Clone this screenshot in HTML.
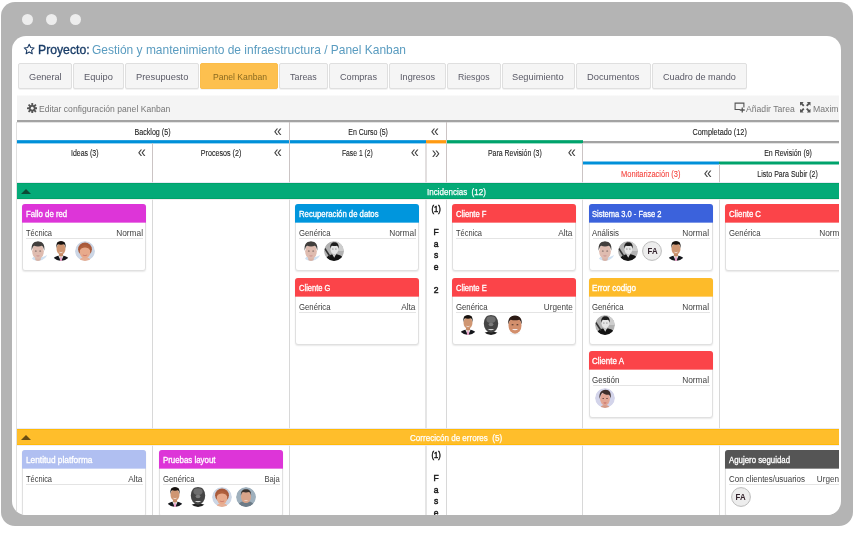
<!DOCTYPE html>
<html lang="es"><head><meta charset="utf-8"><title>Panel Kanban</title>
<style>
html,body{margin:0;padding:0;background:#fff}
body{width:854px;height:534px;overflow:hidden;position:relative;font-family:'Liberation Sans', sans-serif}
#frame{position:absolute;left:1px;top:2px;width:852px;height:523.5px;background:#b4b4b4;border-radius:14px}
.dot{position:absolute;top:13.5px;width:11px;height:11px;border-radius:50%;background:#ededed}
#screen{position:absolute;left:12px;top:36px;width:828.5px;height:479px;background:#fff;border-radius:14px;overflow:hidden}
#page{position:absolute;left:-12px;top:-36px;width:854px;height:534px}
#clip{position:absolute;left:0;top:0;width:839px;height:534px;overflow:hidden}
</style></head><body>
<div id="frame"></div>
<div class="dot" style="left:21.5px"></div><div class="dot" style="left:45.5px"></div><div class="dot" style="left:69.5px"></div>
<div id="screen"><div id="page"><div id="clip">
<svg style="position:absolute;left:22.9px;top:43px" width="12.4" height="12.4" viewBox="0 0 24 24"><path d="M12 2.6l2.9 6.2 6.7.8-5 4.6 1.4 6.7L12 17.5 6 20.9l1.4-6.7-5-4.6 6.7-.8z" fill="none" stroke="#1d3d66" stroke-width="2" stroke-linejoin="round"/></svg>
<span style="position:absolute;left:38.30px;top:36.80px;height:26px;line-height:26px;font-size:13px;font-weight:400;color:#1a3d68;white-space:pre;transform:scaleX(0.9395);transform-origin:0 50%;-webkit-text-stroke:0.35px #1a3d68;">Proyecto:</span>
<span style="position:absolute;left:92.00px;top:36.80px;height:26px;line-height:26px;font-size:13px;font-weight:400;color:#5a9cc0;white-space:pre;transform:scaleX(0.9206);transform-origin:0 50%;">Gestión y mantenimiento de infraestructura / Panel Kanban</span>
<div style="position:absolute;left:18px;top:63px;width:54px;height:26px;box-sizing:border-box;background:#f5f5f5;border:1px solid #dfdfdf;border-radius:2px;box-shadow:0 1px 0 rgba(0,0,0,.05)"></div>
<span style="position:absolute;left:28.80px;top:67.30px;height:19.6px;line-height:19.6px;font-size:9.8px;font-weight:400;color:#5a5a66;white-space:pre;transform:scaleX(0.9352);transform-origin:0 50%;">General</span>
<div style="position:absolute;left:73px;top:63px;width:51px;height:26px;box-sizing:border-box;background:#f5f5f5;border:1px solid #dfdfdf;border-radius:2px;box-shadow:0 1px 0 rgba(0,0,0,.05)"></div>
<span style="position:absolute;left:84.40px;top:67.30px;height:19.6px;line-height:19.6px;font-size:9.8px;font-weight:400;color:#5a5a66;white-space:pre;transform:scaleX(0.9471);transform-origin:0 50%;">Equipo</span>
<div style="position:absolute;left:125px;top:63px;width:74px;height:26px;box-sizing:border-box;background:#f5f5f5;border:1px solid #dfdfdf;border-radius:2px;box-shadow:0 1px 0 rgba(0,0,0,.05)"></div>
<span style="position:absolute;left:136.00px;top:67.30px;height:19.6px;line-height:19.6px;font-size:9.8px;font-weight:400;color:#5a5a66;white-space:pre;transform:scaleX(0.9525);transform-origin:0 50%;">Presupuesto</span>
<div style="position:absolute;left:200px;top:63px;width:78px;height:26px;box-sizing:border-box;background:#fdc04f;border:1px solid #fbbd4a;border-radius:2px;box-shadow:0 1px 0 rgba(0,0,0,.05)"></div>
<span style="position:absolute;left:213.00px;top:67.30px;height:19.6px;line-height:19.6px;font-size:9.8px;font-weight:400;color:#8a6a20;white-space:pre;transform:scaleX(0.8772);transform-origin:0 50%;">Panel Kanban</span>
<div style="position:absolute;left:279px;top:63px;width:49px;height:26px;box-sizing:border-box;background:#f5f5f5;border:1px solid #dfdfdf;border-radius:2px;box-shadow:0 1px 0 rgba(0,0,0,.05)"></div>
<span style="position:absolute;left:290.40px;top:67.30px;height:19.6px;line-height:19.6px;font-size:9.8px;font-weight:400;color:#5a5a66;white-space:pre;transform:scaleX(0.9114);transform-origin:0 50%;">Tareas</span>
<div style="position:absolute;left:329px;top:63px;width:59px;height:26px;box-sizing:border-box;background:#f5f5f5;border:1px solid #dfdfdf;border-radius:2px;box-shadow:0 1px 0 rgba(0,0,0,.05)"></div>
<span style="position:absolute;left:340.00px;top:67.30px;height:19.6px;line-height:19.6px;font-size:9.8px;font-weight:400;color:#5a5a66;white-space:pre;transform:scaleX(0.9308);transform-origin:0 50%;">Compras</span>
<div style="position:absolute;left:389px;top:63px;width:57px;height:26px;box-sizing:border-box;background:#f5f5f5;border:1px solid #dfdfdf;border-radius:2px;box-shadow:0 1px 0 rgba(0,0,0,.05)"></div>
<span style="position:absolute;left:399.90px;top:67.30px;height:19.6px;line-height:19.6px;font-size:9.8px;font-weight:400;color:#5a5a66;white-space:pre;transform:scaleX(0.9341);transform-origin:0 50%;">Ingresos</span>
<div style="position:absolute;left:447px;top:63px;width:54px;height:26px;box-sizing:border-box;background:#f5f5f5;border:1px solid #dfdfdf;border-radius:2px;box-shadow:0 1px 0 rgba(0,0,0,.05)"></div>
<span style="position:absolute;left:458.00px;top:67.30px;height:19.6px;line-height:19.6px;font-size:9.8px;font-weight:400;color:#5a5a66;white-space:pre;transform:scaleX(0.8925);transform-origin:0 50%;">Riesgos</span>
<div style="position:absolute;left:502px;top:63px;width:73px;height:26px;box-sizing:border-box;background:#f5f5f5;border:1px solid #dfdfdf;border-radius:2px;box-shadow:0 1px 0 rgba(0,0,0,.05)"></div>
<span style="position:absolute;left:512.40px;top:67.30px;height:19.6px;line-height:19.6px;font-size:9.8px;font-weight:400;color:#5a5a66;white-space:pre;transform:scaleX(0.9473);transform-origin:0 50%;">Seguimiento</span>
<div style="position:absolute;left:576px;top:63px;width:75px;height:26px;box-sizing:border-box;background:#f5f5f5;border:1px solid #dfdfdf;border-radius:2px;box-shadow:0 1px 0 rgba(0,0,0,.05)"></div>
<span style="position:absolute;left:586.80px;top:67.30px;height:19.6px;line-height:19.6px;font-size:9.8px;font-weight:400;color:#5a5a66;white-space:pre;transform:scaleX(0.9527);transform-origin:0 50%;">Documentos</span>
<div style="position:absolute;left:652px;top:63px;width:95px;height:26px;box-sizing:border-box;background:#f5f5f5;border:1px solid #dfdfdf;border-radius:2px;box-shadow:0 1px 0 rgba(0,0,0,.05)"></div>
<span style="position:absolute;left:662.50px;top:67.30px;height:19.6px;line-height:19.6px;font-size:9.8px;font-weight:400;color:#5a5a66;white-space:pre;transform:scaleX(0.9294);transform-origin:0 50%;">Cuadro de mando</span>
<div style="position:absolute;left:17px;top:95px;width:823px;height:25px;background:#f4f4f4;background:linear-gradient(to bottom,rgba(244,244,244,.5) 1px,#f4f4f4 1px);"></div>
<svg style="position:absolute;left:26.5px;top:102.5px" width="10.5" height="10.5" viewBox="0 0 20 20"><g fill="#555"><circle cx="10" cy="10" r="6.2"/><g id="t"><rect x="8.2" y="0" width="3.6" height="20" rx="0.8"/></g><rect x="8.2" y="0" width="3.6" height="20" rx="0.8" transform="rotate(45 10 10)"/><rect x="8.2" y="0" width="3.6" height="20" rx="0.8" transform="rotate(90 10 10)"/><rect x="8.2" y="0" width="3.6" height="20" rx="0.8" transform="rotate(135 10 10)"/></g><circle cx="10" cy="10" r="2.7" fill="#f4f4f4"/></svg>
<span style="position:absolute;left:39.20px;top:99.60px;height:18.8px;line-height:18.8px;font-size:9.4px;font-weight:400;color:#777;white-space:pre;transform:scaleX(0.9160);transform-origin:0 50%;">Editar configuración panel Kanban</span>
<svg style="position:absolute;left:733.5px;top:101.7px" width="11" height="11" viewBox="0 0 22 22"><path d="M12 15H2.2V2.2h17.6V11" fill="none" stroke="#555" stroke-width="2.2"/><path d="M16.5 11v10M11.5 16h10" stroke="#555" stroke-width="2.6"/></svg>
<span style="position:absolute;left:746.00px;top:99.60px;height:18.8px;line-height:18.8px;font-size:9.4px;font-weight:400;color:#777;white-space:pre;transform:scaleX(0.9210);transform-origin:0 50%;">Añadir Tarea</span>
<svg style="position:absolute;left:800px;top:102px" width="10.5" height="10.5" viewBox="0 0 20 20"><g fill="#555"><path d="M0 0h7L4.8 2.2 8.5 6 6 8.5 2.2 4.8 0 7z"/><path d="M20 0v7l-2.2-2.2L14 8.5 11.5 6l3.7-3.8L13 0z"/><path d="M0 20v-7l2.2 2.2L6 11.5 8.500 14l-3.700 3.800L7 20z"/><path d="M20 20h-7l2.200-2.200L11.500 14 14 11.500l3.800 3.700L20 13z"/></g></svg>
<span style="position:absolute;left:812.70px;top:99.60px;height:18.8px;line-height:18.8px;font-size:9.4px;font-weight:400;color:#777;white-space:pre;transform:scaleX(0.9247);transform-origin:0 50%;">Maximizar</span>
<div style="position:absolute;left:17px;top:120px;width:840px;height:3px;background:linear-gradient(to bottom,rgba(163,163,163,1) 0px,rgba(163,163,163,1) 1px,rgba(163,163,163,1) 1px,rgba(163,163,163,1) 2px,rgba(163,163,163,0.3) 2px,rgba(163,163,163,0.3) 3px)"></div>
<div style="position:absolute;left:17px;top:140px;width:409px;height:4px;background:linear-gradient(to bottom,rgba(0,144,217,0.85) 0px,rgba(0,144,217,0.85) 1px,rgba(0,144,217,1) 1px,rgba(0,144,217,1) 2px,rgba(0,144,217,1) 2px,rgba(0,144,217,1) 3px,rgba(0,144,217,0.4) 3px,rgba(0,144,217,0.4) 4px)"></div>
<div style="position:absolute;left:426px;top:140px;width:20px;height:4px;background:linear-gradient(to bottom,rgba(255,154,18,0.85) 0px,rgba(255,154,18,0.85) 1px,rgba(255,154,18,1) 1px,rgba(255,154,18,1) 2px,rgba(255,154,18,1) 2px,rgba(255,154,18,1) 3px,rgba(255,154,18,0.4) 3px,rgba(255,154,18,0.4) 4px)"></div>
<div style="position:absolute;left:446px;top:140px;width:137px;height:4px;background:linear-gradient(to bottom,rgba(0,163,108,0.85) 0px,rgba(0,163,108,0.85) 1px,rgba(0,163,108,1) 1px,rgba(0,163,108,1) 2px,rgba(0,163,108,1) 2px,rgba(0,163,108,1) 3px,rgba(0,163,108,0.4) 3px,rgba(0,163,108,0.4) 4px)"></div>
<div style="position:absolute;left:583px;top:140px;width:280px;height:4px;background:linear-gradient(to bottom,rgba(163,163,163,0) 0px,rgba(163,163,163,0) 1px,rgba(163,163,163,1) 1px,rgba(163,163,163,1) 2px,rgba(163,163,163,1) 2px,rgba(163,163,163,1) 3px,rgba(163,163,163,0.3) 3px,rgba(163,163,163,0.3) 4px)"></div>
<div style="position:absolute;left:583px;top:161px;width:136px;height:4px;background:linear-gradient(to bottom,rgba(0,144,217,0.5) 0px,rgba(0,144,217,0.5) 1px,rgba(0,144,217,1) 1px,rgba(0,144,217,1) 2px,rgba(0,144,217,1) 2px,rgba(0,144,217,1) 3px,rgba(0,144,217,0.5) 3px,rgba(0,144,217,0.5) 4px)"></div>
<div style="position:absolute;left:719px;top:161px;width:137px;height:4px;background:linear-gradient(to bottom,rgba(0,163,108,0.5) 0px,rgba(0,163,108,0.5) 1px,rgba(0,163,108,1) 1px,rgba(0,163,108,1) 2px,rgba(0,163,108,1) 2px,rgba(0,163,108,1) 3px,rgba(0,163,108,0.5) 3px,rgba(0,163,108,0.5) 4px)"></div>
<div style="position:absolute;left:16px;top:122px;width:1px;height:398px;background:#e0e0e0;"></div>
<div style="position:absolute;left:152px;top:143px;width:1px;height:40px;background:#cbc4c4;"></div>
<div style="position:absolute;left:289px;top:122px;width:1px;height:61px;background:#cbc4c4;"></div>
<div style="position:absolute;left:446px;top:122px;width:1px;height:61px;background:#cbc4c4;"></div>
<div style="position:absolute;left:425px;top:143px;width:2px;height:40px;background:rgba(203,196,196,.55);"></div>
<div style="position:absolute;left:582px;top:143px;width:1px;height:40px;background:#cbc4c4;"></div>
<div style="position:absolute;left:719px;top:164px;width:1px;height:19px;background:#cbc4c4;"></div>
<div style="position:absolute;left:152px;top:199px;width:1px;height:230px;background:#d8d8d8;"></div>
<div style="position:absolute;left:152px;top:445px;width:1px;height:75px;background:#d8d8d8;"></div>
<div style="position:absolute;left:289px;top:199px;width:1px;height:230px;background:#d8d8d8;"></div>
<div style="position:absolute;left:289px;top:445px;width:1px;height:75px;background:#d8d8d8;"></div>
<div style="position:absolute;left:446px;top:199px;width:1px;height:230px;background:#d8d8d8;"></div>
<div style="position:absolute;left:446px;top:445px;width:1px;height:75px;background:#d8d8d8;"></div>
<div style="position:absolute;left:582px;top:199px;width:1px;height:230px;background:#d8d8d8;"></div>
<div style="position:absolute;left:582px;top:445px;width:1px;height:75px;background:#d8d8d8;"></div>
<div style="position:absolute;left:719px;top:199px;width:1px;height:230px;background:#d8d8d8;"></div>
<div style="position:absolute;left:719px;top:445px;width:1px;height:75px;background:#d8d8d8;"></div>
<div style="position:absolute;left:425px;top:199px;width:2px;height:230px;background:rgba(207,207,207,.55);"></div>
<div style="position:absolute;left:425px;top:445px;width:2px;height:75px;background:rgba(207,207,207,.55);"></div>
<span style="position:absolute;left:131.40px;top:124.00px;height:17.0px;line-height:17.0px;font-size:8.5px;font-weight:400;color:#222;white-space:pre;transform:scaleX(0.8395);transform-origin:50% 50%;-webkit-text-stroke:0.1px #222;">Backlog (5)</span>
<span style="position:absolute;left:273.07px;top:114.20px;height:34px;line-height:34px;font-size:17px;font-weight:400;color:#444;white-space:pre;transform:scaleX(0.8554);transform-origin:50% 50%;">«</span>
<span style="position:absolute;left:343.81px;top:124.00px;height:17.0px;line-height:17.0px;font-size:8.5px;font-weight:400;color:#222;white-space:pre;transform:scaleX(0.8239);transform-origin:50% 50%;-webkit-text-stroke:0.1px #222;">En Curso (5)</span>
<span style="position:absolute;left:430.27px;top:114.20px;height:34px;line-height:34px;font-size:17px;font-weight:400;color:#444;white-space:pre;transform:scaleX(0.8554);transform-origin:50% 50%;">«</span>
<span style="position:absolute;left:687.64px;top:124.00px;height:17.0px;line-height:17.0px;font-size:8.5px;font-weight:400;color:#222;white-space:pre;transform:scaleX(0.8577);transform-origin:50% 50%;-webkit-text-stroke:0.1px #222;">Completado (12)</span>
<span style="position:absolute;left:67.93px;top:145.00px;height:17.0px;line-height:17.0px;font-size:8.5px;font-weight:400;color:#222;white-space:pre;transform:scaleX(0.8227);transform-origin:50% 50%;-webkit-text-stroke:0.1px #222;">Ideas (3)</span>
<span style="position:absolute;left:136.87px;top:135.20px;height:34px;line-height:34px;font-size:17px;font-weight:400;color:#444;white-space:pre;transform:scaleX(0.8554);transform-origin:50% 50%;">«</span>
<span style="position:absolute;left:197.11px;top:145.00px;height:17.0px;line-height:17.0px;font-size:8.5px;font-weight:400;color:#222;white-space:pre;transform:scaleX(0.8405);transform-origin:50% 50%;-webkit-text-stroke:0.1px #222;">Procesos (2)</span>
<span style="position:absolute;left:273.07px;top:135.20px;height:34px;line-height:34px;font-size:17px;font-weight:400;color:#444;white-space:pre;transform:scaleX(0.8554);transform-origin:50% 50%;">«</span>
<span style="position:absolute;left:338.43px;top:145.00px;height:17.0px;line-height:17.0px;font-size:8.5px;font-weight:400;color:#222;white-space:pre;transform:scaleX(0.7974);transform-origin:50% 50%;-webkit-text-stroke:0.1px #222;">Fase 1 (2)</span>
<span style="position:absolute;left:409.77px;top:135.20px;height:34px;line-height:34px;font-size:17px;font-weight:400;color:#444;white-space:pre;transform:scaleX(0.8554);transform-origin:50% 50%;">«</span>
<span style="position:absolute;left:430.57px;top:135.70px;height:34px;line-height:34px;font-size:17px;font-weight:400;color:#444;white-space:pre;transform:scaleX(0.8554);transform-origin:50% 50%;">»</span>
<span style="position:absolute;left:481.76px;top:145.00px;height:17.0px;line-height:17.0px;font-size:8.5px;font-weight:400;color:#222;white-space:pre;transform:scaleX(0.8207);transform-origin:50% 50%;-webkit-text-stroke:0.1px #222;">Para Revisión (3)</span>
<span style="position:absolute;left:566.67px;top:135.20px;height:34px;line-height:34px;font-size:17px;font-weight:400;color:#444;white-space:pre;transform:scaleX(0.8554);transform-origin:50% 50%;">«</span>
<span style="position:absolute;left:758.55px;top:145.00px;height:17.0px;line-height:17.0px;font-size:8.5px;font-weight:400;color:#222;white-space:pre;transform:scaleX(0.8226);transform-origin:50% 50%;-webkit-text-stroke:0.1px #222;">En Revisión (9)</span>
<span style="position:absolute;left:617.42px;top:165.70px;height:17.0px;line-height:17.0px;font-size:8.5px;font-weight:400;color:#f4453f;white-space:pre;transform:scaleX(0.8807);transform-origin:50% 50%;-webkit-text-stroke:0.1px #f4453f;">Monitarización (3)</span>
<span style="position:absolute;left:703.27px;top:155.90px;height:34px;line-height:34px;font-size:17px;font-weight:400;color:#444;white-space:pre;transform:scaleX(0.8554);transform-origin:50% 50%;">«</span>
<span style="position:absolute;left:750.88px;top:165.70px;height:17.0px;line-height:17.0px;font-size:8.5px;font-weight:400;color:#222;white-space:pre;transform:scaleX(0.8261);transform-origin:50% 50%;-webkit-text-stroke:0.1px #222;">Listo Para Subir (2)</span>
<div style="position:absolute;left:17px;top:182px;width:840px;height:1px;background:rgba(225,228,245,.8);"></div>
<div style="position:absolute;left:17px;top:199px;width:840px;height:1px;background:rgba(240,232,236,.8);"></div>
<div style="position:absolute;left:17px;top:183px;width:840px;height:16px;background:#04aa78;box-sizing:border-box;border-top:1px solid #00a268;border-bottom:1px solid #00a268;"></div>
<svg style="position:absolute;left:21px;top:188.5px" width="10" height="5" viewBox="0 0 10 5"><path d="M0 5L5 0l5 5z" fill="#0b4a36"/></svg>
<span style="position:absolute;left:426.80px;top:182.90px;height:18.6px;line-height:18.6px;font-size:9.3px;font-weight:400;color:#fff;white-space:pre;transform:scaleX(0.8634);transform-origin:0 50%;white-space:pre;-webkit-text-stroke:0.25px #fff;">Incidencias  (12)</span>
<div style="position:absolute;left:17px;top:428px;width:840px;height:1px;background:rgba(225,228,245,.8);"></div>
<div style="position:absolute;left:17px;top:445px;width:840px;height:1px;background:rgba(240,232,236,.8);"></div>
<div style="position:absolute;left:17px;top:429px;width:840px;height:16px;background:#ffbe2b;box-sizing:border-box;border-top:1px solid #ffba08;border-bottom:1px solid #ffba08;"></div>
<svg style="position:absolute;left:21px;top:434.5px" width="10" height="5" viewBox="0 0 10 5"><path d="M0 5L5 0l5 5z" fill="#6b4d12"/></svg>
<span style="position:absolute;left:410.30px;top:428.90px;height:18.6px;line-height:18.6px;font-size:9.3px;font-weight:400;color:#fff;white-space:pre;transform:scaleX(0.8662);transform-origin:0 50%;white-space:pre;-webkit-text-stroke:0.25px #fff;">Correcicón de errores  (5)</span>
<span style="position:absolute;left:430.80px;top:200.80px;height:17.0px;line-height:17.0px;font-size:8.5px;font-weight:400;color:#1c1c1c;white-space:pre;transform:scaleX(0.8854);transform-origin:50% 50%;-webkit-text-stroke:0.5px #1c1c1c;">(1)</span>
<span style="position:absolute;left:433.40px;top:224.10px;height:17.0px;line-height:17.0px;font-size:8.5px;font-weight:400;color:#1c1c1c;white-space:pre;transform:scaleX(1.0000);transform-origin:50% 50%;-webkit-text-stroke:0.5px #1c1c1c;">F</span>
<span style="position:absolute;left:433.63px;top:235.75px;height:17.0px;line-height:17.0px;font-size:8.5px;font-weight:400;color:#1c1c1c;white-space:pre;transform:scaleX(1.0000);transform-origin:50% 50%;-webkit-text-stroke:0.5px #1c1c1c;">a</span>
<span style="position:absolute;left:433.88px;top:247.40px;height:17.0px;line-height:17.0px;font-size:8.5px;font-weight:400;color:#1c1c1c;white-space:pre;transform:scaleX(1.0000);transform-origin:50% 50%;-webkit-text-stroke:0.5px #1c1c1c;">s</span>
<span style="position:absolute;left:433.63px;top:259.05px;height:17.0px;line-height:17.0px;font-size:8.5px;font-weight:400;color:#1c1c1c;white-space:pre;transform:scaleX(1.0000);transform-origin:50% 50%;-webkit-text-stroke:0.5px #1c1c1c;">e</span>
<span style="position:absolute;left:433.63px;top:282.35px;height:17.0px;line-height:17.0px;font-size:8.5px;font-weight:400;color:#1c1c1c;white-space:pre;transform:scaleX(1.0000);transform-origin:50% 50%;-webkit-text-stroke:0.5px #1c1c1c;">2</span>
<span style="position:absolute;left:430.80px;top:446.80px;height:17.0px;line-height:17.0px;font-size:8.5px;font-weight:400;color:#1c1c1c;white-space:pre;transform:scaleX(0.8854);transform-origin:50% 50%;-webkit-text-stroke:0.5px #1c1c1c;">(1)</span>
<span style="position:absolute;left:433.40px;top:470.10px;height:17.0px;line-height:17.0px;font-size:8.5px;font-weight:400;color:#1c1c1c;white-space:pre;transform:scaleX(1.0000);transform-origin:50% 50%;-webkit-text-stroke:0.5px #1c1c1c;">F</span>
<span style="position:absolute;left:433.63px;top:481.75px;height:17.0px;line-height:17.0px;font-size:8.5px;font-weight:400;color:#1c1c1c;white-space:pre;transform:scaleX(1.0000);transform-origin:50% 50%;-webkit-text-stroke:0.5px #1c1c1c;">a</span>
<span style="position:absolute;left:433.88px;top:493.40px;height:17.0px;line-height:17.0px;font-size:8.5px;font-weight:400;color:#1c1c1c;white-space:pre;transform:scaleX(1.0000);transform-origin:50% 50%;-webkit-text-stroke:0.5px #1c1c1c;">s</span>
<span style="position:absolute;left:433.63px;top:505.05px;height:17.0px;line-height:17.0px;font-size:8.5px;font-weight:400;color:#1c1c1c;white-space:pre;transform:scaleX(1.0000);transform-origin:50% 50%;-webkit-text-stroke:0.5px #1c1c1c;">e</span>
<span style="position:absolute;left:433.63px;top:528.35px;height:17.0px;line-height:17.0px;font-size:8.5px;font-weight:400;color:#1c1c1c;white-space:pre;transform:scaleX(1.0000);transform-origin:50% 50%;-webkit-text-stroke:0.5px #1c1c1c;">2</span>
<div style="position:absolute;left:22px;top:204px;width:124px;height:66.5px;box-sizing:border-box;background:#fff;border:1px solid #e0e0e0;border-radius:3px;box-shadow:0 1px 1.5px rgba(0,0,0,.09)"></div>
<div style="position:absolute;left:22px;top:204px;width:124px;height:19px;background:linear-gradient(to bottom,#dd35d8 18px,transparent 18px),#dd35d8a8;border-radius:3px 3px 0 0"></div>
<span style="position:absolute;left:25.70px;top:205.60px;height:16.8px;line-height:16.8px;font-size:8.4px;font-weight:400;color:#fff;white-space:pre;transform:scaleX(0.9314);transform-origin:0 50%;-webkit-text-stroke:0.3px #fff;">Fallo de red</span>
<span style="position:absolute;left:25.80px;top:224.60px;height:16.8px;line-height:16.8px;font-size:8.4px;font-weight:400;color:#3a3a3a;white-space:pre;transform:scaleX(0.8865);transform-origin:0 50%;">Técnica</span>
<span style="position:absolute;left:115.60px;top:224.60px;height:16.8px;line-height:16.8px;font-size:8.4px;font-weight:400;color:#444;white-space:pre;transform:scaleX(0.9926);transform-origin:100% 50%;">Normal</span>
<div style="position:absolute;left:25.5px;top:238px;width:117px;height:1px;background:#e4e4e4;"></div>
<svg style="position:absolute;left:27.6px;top:241px;border-radius:50%" width="20" height="20" viewBox="0 0 20 20"><g transform="translate(10 9.7) scale(1.1) translate(-10 -10)"><path d="M2.500 20l3.200-4.200 8.600 0L18.500 14 16.500 20z" fill="#cfe0f1"/><rect x="7.500" y="13" width="5" height="6.500" rx="1.500" fill="#d9b3a6"/><ellipse cx="10" cy="10.600" rx="5.300" ry="6.800" fill="#dfbcb0"/><path d="M4.300 10C3.500 4 6.300 1.400 10 1.400s6.600 2.400 5.700 8.600c-.5-2.900-1.400-4.100-2.300-4.600-1.800.9-5 .9-6.800 0-.9.500-1.800 1.700-2.300 4.600z" fill="#423f3d"/><ellipse cx="8" cy="10.300" rx=".9" ry=".5" fill="#6b5a58"/><ellipse cx="12" cy="10.300" rx=".9" ry=".5" fill="#6b5a58"/><path d="M8.700 14.600q1.300.5 2.600 0" stroke="#c98a8a" stroke-width=".8" fill="none"/></g></svg>
<svg style="position:absolute;left:51.3px;top:241px;border-radius:50%" width="20" height="20" viewBox="0 0 20 20"><g transform="translate(10 9.4) scale(1.12) translate(-10 -10)"><path d="M2 20c.3-3 2.500-4.700 5.500-5.300h5c3 .6 5.200 2.300 5.500 5.300z" fill="#14161b"/><path d="M7.600 14.600L10 20l2.400-5.400z" fill="#f4f4f8"/><path d="M9.400 16h1.200l.600 4H8.800z" fill="#eaa0c8"/><rect x="8.200" y="11" width="3.600" height="4.500" rx="1" fill="#c48a66"/><ellipse cx="10" cy="8.600" rx="4" ry="5.300" fill="#cf9672"/><path d="M5.900 8C5.400 3.200 7.400 1.300 10 1.300s4.600 1.900 4.100 6.700c-.3-2.100-.8-3-1.500-3.500-1.600.5-3.600.5-5.200 0-.7.500-1.200 1.400-1.500 3.500z" fill="#17120f"/><path d="M8.600 11.600q1.400.9 2.800 0" stroke="#f3e4dc" stroke-width=".7" fill="none"/></g></svg>
<svg style="position:absolute;left:75.0px;top:241px;border-radius:50%" width="20" height="20" viewBox="0 0 20 20"><circle cx="10" cy="10" r="10" fill="#ccd6e5"/><path d="M4 20c.5-2.500 2.500-3.800 6-3.800s5.500 1.300 6 3.800z" fill="#e6b097"/><ellipse cx="10" cy="8.300" rx="6.900" ry="6.800" fill="#a8593a"/><ellipse cx="10" cy="11" rx="5.200" ry="6.300" fill="#e8aa8c"/><path d="M4.800 9.500C5 5.500 7 4 10 4.200s5 1.300 5.200 5.300c-1-2-2.800-2.900-5.200-2.900s-4.200.9-5.200 2.900z" fill="#b0603d"/><path d="M7.800 14q2.200 1.400 4.400 0" stroke="#c9756a" stroke-width=".8" fill="none"/></svg>
<div style="position:absolute;left:295px;top:204px;width:124px;height:66.5px;box-sizing:border-box;background:#fff;border:1px solid #e0e0e0;border-radius:3px;box-shadow:0 1px 1.5px rgba(0,0,0,.09)"></div>
<div style="position:absolute;left:295px;top:204px;width:124px;height:19px;background:linear-gradient(to bottom,#0096dd 18px,transparent 18px),#0096dda8;border-radius:3px 3px 0 0"></div>
<span style="position:absolute;left:298.70px;top:205.60px;height:16.8px;line-height:16.8px;font-size:8.4px;font-weight:400;color:#fff;white-space:pre;transform:scaleX(0.9229);transform-origin:0 50%;-webkit-text-stroke:0.3px #fff;">Recuperación de datos</span>
<span style="position:absolute;left:298.80px;top:224.60px;height:16.8px;line-height:16.8px;font-size:8.4px;font-weight:400;color:#3a3a3a;white-space:pre;transform:scaleX(0.9269);transform-origin:0 50%;">Genérica</span>
<span style="position:absolute;left:388.60px;top:224.60px;height:16.8px;line-height:16.8px;font-size:8.4px;font-weight:400;color:#444;white-space:pre;transform:scaleX(0.9926);transform-origin:100% 50%;">Normal</span>
<div style="position:absolute;left:298.5px;top:238px;width:117px;height:1px;background:#e4e4e4;"></div>
<svg style="position:absolute;left:300.6px;top:241px;border-radius:50%" width="20" height="20" viewBox="0 0 20 20"><g transform="translate(10 9.7) scale(1.1) translate(-10 -10)"><path d="M2.500 20l3.200-4.200 8.600 0L18.500 14 16.500 20z" fill="#cfe0f1"/><rect x="7.500" y="13" width="5" height="6.500" rx="1.500" fill="#d9b3a6"/><ellipse cx="10" cy="10.600" rx="5.300" ry="6.800" fill="#dfbcb0"/><path d="M4.300 10C3.500 4 6.300 1.400 10 1.400s6.600 2.400 5.700 8.600c-.5-2.900-1.400-4.100-2.300-4.600-1.800.9-5 .9-6.800 0-.9.500-1.800 1.700-2.300 4.600z" fill="#423f3d"/><ellipse cx="8" cy="10.300" rx=".9" ry=".5" fill="#6b5a58"/><ellipse cx="12" cy="10.300" rx=".9" ry=".5" fill="#6b5a58"/><path d="M8.700 14.600q1.300.5 2.600 0" stroke="#c98a8a" stroke-width=".8" fill="none"/></g></svg>
<svg style="position:absolute;left:324.3px;top:241px;border-radius:50%" width="20" height="20" viewBox="0 0 20 20"><circle cx="10" cy="10" r="10" fill="#b2b2b2"/><path d="M10 0a10 10 0 0 1 10 10L10 10z" fill="#cdcdcd"/><path d="M2.500 16.500c2-2.500 4.500-3.300 7.500-3.300s7 .5 9 3.500a10 10 0 0 1-16.500-.200z" fill="#141414"/><path d="M8.300 13.200l1.900 3.600 1.900-3.600z" fill="#d4d4d4"/><rect x="8.600" y="10.500" width="3.400" height="3.500" fill="#c9c9c9"/><ellipse cx="10.400" cy="8.200" rx="3.900" ry="4.900" fill="#e6e6e6"/><path d="M6.300 7.800C5.700 3 8 1.300 10.500 1.300s4.900 1.800 4.100 6.500c-.4-1.700-.9-2.600-1.600-3.100-1.600.5-3.600.5-5.100 0-.7.500-1.200 1.400-1.600 3.100z" fill="#1f1f1f"/><ellipse cx="8.900" cy="8" rx=".7" ry=".4" fill="#555"/><ellipse cx="11.900" cy="8" rx=".7" ry=".4" fill="#555"/><path d="M.8 7.500l5.200 8" stroke="#333" stroke-width="1.600"/></svg>
<div style="position:absolute;left:295px;top:278px;width:124px;height:66.5px;box-sizing:border-box;background:#fff;border:1px solid #e0e0e0;border-radius:3px;box-shadow:0 1px 1.5px rgba(0,0,0,.09)"></div>
<div style="position:absolute;left:295px;top:278px;width:124px;height:19px;background:linear-gradient(to bottom,#fb4449 18px,transparent 18px),#fb4449a8;border-radius:3px 3px 0 0"></div>
<span style="position:absolute;left:298.70px;top:279.60px;height:16.8px;line-height:16.8px;font-size:8.4px;font-weight:400;color:#fff;white-space:pre;transform:scaleX(0.9020);transform-origin:0 50%;-webkit-text-stroke:0.3px #fff;">Cliente G</span>
<span style="position:absolute;left:298.80px;top:298.60px;height:16.8px;line-height:16.8px;font-size:8.4px;font-weight:400;color:#3a3a3a;white-space:pre;transform:scaleX(0.9269);transform-origin:0 50%;">Genérica</span>
<span style="position:absolute;left:401.16px;top:298.60px;height:16.8px;line-height:16.8px;font-size:8.4px;font-weight:400;color:#444;white-space:pre;transform:scaleX(0.9905);transform-origin:100% 50%;">Alta</span>
<div style="position:absolute;left:298.5px;top:312px;width:117px;height:1px;background:#e4e4e4;"></div>
<div style="position:absolute;left:452px;top:204px;width:124px;height:66.5px;box-sizing:border-box;background:#fff;border:1px solid #e0e0e0;border-radius:3px;box-shadow:0 1px 1.5px rgba(0,0,0,.09)"></div>
<div style="position:absolute;left:452px;top:204px;width:124px;height:19px;background:linear-gradient(to bottom,#fb4449 18px,transparent 18px),#fb4449a8;border-radius:3px 3px 0 0"></div>
<span style="position:absolute;left:455.70px;top:205.60px;height:16.8px;line-height:16.8px;font-size:8.4px;font-weight:400;color:#fff;white-space:pre;transform:scaleX(0.9100);transform-origin:0 50%;-webkit-text-stroke:0.3px #fff;">Cliente F</span>
<span style="position:absolute;left:455.80px;top:224.60px;height:16.8px;line-height:16.8px;font-size:8.4px;font-weight:400;color:#3a3a3a;white-space:pre;transform:scaleX(0.8865);transform-origin:0 50%;">Técnica</span>
<span style="position:absolute;left:558.16px;top:224.60px;height:16.8px;line-height:16.8px;font-size:8.4px;font-weight:400;color:#444;white-space:pre;transform:scaleX(0.9905);transform-origin:100% 50%;">Alta</span>
<div style="position:absolute;left:455.5px;top:238px;width:117px;height:1px;background:#e4e4e4;"></div>
<div style="position:absolute;left:452px;top:278px;width:124px;height:66.5px;box-sizing:border-box;background:#fff;border:1px solid #e0e0e0;border-radius:3px;box-shadow:0 1px 1.5px rgba(0,0,0,.09)"></div>
<div style="position:absolute;left:452px;top:278px;width:124px;height:19px;background:linear-gradient(to bottom,#fb4449 18px,transparent 18px),#fb4449a8;border-radius:3px 3px 0 0"></div>
<span style="position:absolute;left:455.70px;top:279.60px;height:16.8px;line-height:16.8px;font-size:8.4px;font-weight:400;color:#fff;white-space:pre;transform:scaleX(0.9034);transform-origin:0 50%;-webkit-text-stroke:0.3px #fff;">Cliente E</span>
<span style="position:absolute;left:455.80px;top:298.60px;height:16.8px;line-height:16.8px;font-size:8.4px;font-weight:400;color:#3a3a3a;white-space:pre;transform:scaleX(0.9269);transform-origin:0 50%;">Genérica</span>
<span style="position:absolute;left:542.80px;top:298.60px;height:16.8px;line-height:16.8px;font-size:8.4px;font-weight:400;color:#444;white-space:pre;transform:scaleX(0.9733);transform-origin:100% 50%;">Urgente</span>
<div style="position:absolute;left:455.5px;top:312px;width:117px;height:1px;background:#e4e4e4;"></div>
<svg style="position:absolute;left:457.6px;top:315px;border-radius:50%" width="20" height="20" viewBox="0 0 20 20"><g transform="translate(10 9.4) scale(1.12) translate(-10 -10)"><path d="M2 20c.3-3 2.500-4.700 5.500-5.300h5c3 .6 5.200 2.300 5.500 5.300z" fill="#14161b"/><path d="M7.600 14.600L10 20l2.400-5.400z" fill="#f4f4f8"/><path d="M9.400 16h1.200l.600 4H8.800z" fill="#eaa0c8"/><rect x="8.200" y="11" width="3.600" height="4.500" rx="1" fill="#c48a66"/><ellipse cx="10" cy="8.600" rx="4" ry="5.300" fill="#cf9672"/><path d="M5.900 8C5.400 3.200 7.400 1.300 10 1.300s4.600 1.900 4.100 6.700c-.3-2.100-.8-3-1.500-3.500-1.600.5-3.600.5-5.200 0-.7.500-1.200 1.400-1.500 3.500z" fill="#17120f"/><path d="M8.600 11.600q1.400.9 2.800 0" stroke="#f3e4dc" stroke-width=".7" fill="none"/></g></svg>
<svg style="position:absolute;left:481.3px;top:315px;border-radius:50%" width="20" height="20" viewBox="0 0 20 20"><g transform="translate(10 9.7) scale(1.22) translate(-10 -10)"><path d="M2.500 20c.3-3 2.500-4.500 7.500-4.500s7.200 1.500 7.500 4.500z" fill="#1f1f1f"/><ellipse cx="10" cy="9" rx="5.900" ry="7.600" fill="#454545"/><ellipse cx="10" cy="5.800" rx="3.800" ry="2.800" fill="#6e6e6e"/><ellipse cx="10" cy="9.800" rx="2" ry="1.400" fill="#7d7d7d"/><path d="M7.300 13.500q2.700 2 5.400 0z" fill="#d8d8d8"/></g></svg>
<svg style="position:absolute;left:505.0px;top:315px;border-radius:50%" width="20" height="20" viewBox="0 0 20 20"><g transform="translate(10 10.2) scale(1.16) translate(-10 -10)"><path d="M2.500 20c.5-2.500 2.500-3.500 7.500-3.500s7 1 7.500 3.500z" fill="#eef1f4"/><ellipse cx="10" cy="10.300" rx="5.600" ry="7" fill="#d38f6c"/><path d="M4.200 9.500C3.600 4 6.500 1.700 10 1.700s6.400 2.300 5.800 7.800c-.5-2.600-1.300-3.700-2.200-4.200-2 .6-5.200.6-7.200 0-.9.500-1.700 1.600-2.200 4.200z" fill="#2b1a14"/><ellipse cx="7.900" cy="9.600" rx=".9" ry=".5" fill="#3a2620"/><ellipse cx="12.100" cy="9.600" rx=".9" ry=".5" fill="#3a2620"/><path d="M7.300 13.300q2.700 2.200 5.400 0z" fill="#f6ecec"/></g></svg>
<div style="position:absolute;left:589px;top:204px;width:124px;height:66.5px;box-sizing:border-box;background:#fff;border:1px solid #e0e0e0;border-radius:3px;box-shadow:0 1px 1.5px rgba(0,0,0,.09)"></div>
<div style="position:absolute;left:589px;top:204px;width:124px;height:19px;background:linear-gradient(to bottom,#3b62dc 18px,transparent 18px),#3b62dca8;border-radius:3px 3px 0 0"></div>
<span style="position:absolute;left:592.00px;top:205.60px;height:16.8px;line-height:16.8px;font-size:8.4px;font-weight:400;color:#fff;white-space:pre;transform:scaleX(0.8993);transform-origin:0 50%;-webkit-text-stroke:0.3px #fff;">Sistema 3.0 - Fase 2</span>
<span style="position:absolute;left:592.10px;top:224.60px;height:16.8px;line-height:16.8px;font-size:8.4px;font-weight:400;color:#3a3a3a;white-space:pre;transform:scaleX(0.9356);transform-origin:0 50%;">Análisis</span>
<span style="position:absolute;left:681.90px;top:224.60px;height:16.8px;line-height:16.8px;font-size:8.4px;font-weight:400;color:#444;white-space:pre;transform:scaleX(0.9926);transform-origin:100% 50%;">Normal</span>
<div style="position:absolute;left:592.5px;top:238px;width:117px;height:1px;background:#e4e4e4;"></div>
<svg style="position:absolute;left:594.6px;top:241px;border-radius:50%" width="20" height="20" viewBox="0 0 20 20"><g transform="translate(10 9.7) scale(1.1) translate(-10 -10)"><path d="M2.500 20l3.200-4.200 8.600 0L18.500 14 16.500 20z" fill="#cfe0f1"/><rect x="7.500" y="13" width="5" height="6.500" rx="1.500" fill="#d9b3a6"/><ellipse cx="10" cy="10.600" rx="5.300" ry="6.800" fill="#dfbcb0"/><path d="M4.300 10C3.500 4 6.300 1.400 10 1.400s6.600 2.400 5.700 8.600c-.5-2.900-1.400-4.100-2.300-4.600-1.800.9-5 .9-6.800 0-.9.500-1.800 1.700-2.300 4.600z" fill="#423f3d"/><ellipse cx="8" cy="10.300" rx=".9" ry=".5" fill="#6b5a58"/><ellipse cx="12" cy="10.300" rx=".9" ry=".5" fill="#6b5a58"/><path d="M8.700 14.600q1.300.5 2.600 0" stroke="#c98a8a" stroke-width=".8" fill="none"/></g></svg>
<svg style="position:absolute;left:618.3000000000001px;top:241px;border-radius:50%" width="20" height="20" viewBox="0 0 20 20"><circle cx="10" cy="10" r="10" fill="#b2b2b2"/><path d="M10 0a10 10 0 0 1 10 10L10 10z" fill="#cdcdcd"/><path d="M2.500 16.500c2-2.500 4.500-3.300 7.500-3.300s7 .5 9 3.500a10 10 0 0 1-16.500-.200z" fill="#141414"/><path d="M8.300 13.200l1.900 3.600 1.900-3.600z" fill="#d4d4d4"/><rect x="8.600" y="10.500" width="3.400" height="3.500" fill="#c9c9c9"/><ellipse cx="10.400" cy="8.200" rx="3.900" ry="4.900" fill="#e6e6e6"/><path d="M6.300 7.800C5.700 3 8 1.300 10.500 1.300s4.900 1.800 4.100 6.500c-.4-1.700-.9-2.600-1.600-3.100-1.600.5-3.600.5-5.100 0-.7.500-1.200 1.400-1.600 3.100z" fill="#1f1f1f"/><ellipse cx="8.900" cy="8" rx=".7" ry=".4" fill="#555"/><ellipse cx="11.900" cy="8" rx=".7" ry=".4" fill="#555"/><path d="M.8 7.500l5.200 8" stroke="#333" stroke-width="1.600"/></svg>
<svg style="position:absolute;left:642.0px;top:241px" width="20" height="20" viewBox="0 0 20 20"><circle cx="10" cy="10" r="9.4" fill="#ededed" stroke="#bcbcbc" stroke-width="1"/></svg>
<span style="position:absolute;left:646.58px;top:242.80px;height:17.6px;line-height:17.6px;font-size:8.8px;font-weight:700;color:#33222c;white-space:pre;transform:scaleX(0.8889);transform-origin:50% 50%;">FA</span>
<svg style="position:absolute;left:665.7px;top:241px;border-radius:50%" width="20" height="20" viewBox="0 0 20 20"><g transform="translate(10 9.4) scale(1.12) translate(-10 -10)"><path d="M2 20c.3-3 2.500-4.700 5.500-5.300h5c3 .6 5.200 2.300 5.500 5.300z" fill="#14161b"/><path d="M7.600 14.600L10 20l2.400-5.400z" fill="#f4f4f8"/><path d="M9.400 16h1.200l.600 4H8.800z" fill="#eaa0c8"/><rect x="8.200" y="11" width="3.600" height="4.500" rx="1" fill="#c48a66"/><ellipse cx="10" cy="8.600" rx="4" ry="5.300" fill="#cf9672"/><path d="M5.900 8C5.400 3.200 7.400 1.300 10 1.300s4.600 1.900 4.100 6.700c-.3-2.100-.8-3-1.500-3.500-1.600.5-3.600.5-5.200 0-.7.500-1.200 1.400-1.500 3.500z" fill="#17120f"/><path d="M8.600 11.600q1.400.9 2.800 0" stroke="#f3e4dc" stroke-width=".7" fill="none"/></g></svg>
<div style="position:absolute;left:589px;top:278px;width:124px;height:66.5px;box-sizing:border-box;background:#fff;border:1px solid #e0e0e0;border-radius:3px;box-shadow:0 1px 1.5px rgba(0,0,0,.09)"></div>
<div style="position:absolute;left:589px;top:278px;width:124px;height:19px;background:linear-gradient(to bottom,#fdbb2a 18px,transparent 18px),#fdbb2aa8;border-radius:3px 3px 0 0"></div>
<span style="position:absolute;left:592.00px;top:279.60px;height:16.8px;line-height:16.8px;font-size:8.4px;font-weight:400;color:#fff;white-space:pre;transform:scaleX(0.9644);transform-origin:0 50%;-webkit-text-stroke:0.3px #fff;">Error codigo</span>
<span style="position:absolute;left:592.10px;top:298.60px;height:16.8px;line-height:16.8px;font-size:8.4px;font-weight:400;color:#3a3a3a;white-space:pre;transform:scaleX(0.9269);transform-origin:0 50%;">Genérica</span>
<span style="position:absolute;left:681.90px;top:298.60px;height:16.8px;line-height:16.8px;font-size:8.4px;font-weight:400;color:#444;white-space:pre;transform:scaleX(0.9926);transform-origin:100% 50%;">Normal</span>
<div style="position:absolute;left:592.5px;top:312px;width:117px;height:1px;background:#e4e4e4;"></div>
<svg style="position:absolute;left:594.6px;top:315px;border-radius:50%" width="20" height="20" viewBox="0 0 20 20"><circle cx="10" cy="10" r="10" fill="#b2b2b2"/><path d="M10 0a10 10 0 0 1 10 10L10 10z" fill="#cdcdcd"/><path d="M2.500 16.500c2-2.500 4.500-3.300 7.500-3.300s7 .5 9 3.500a10 10 0 0 1-16.500-.200z" fill="#141414"/><path d="M8.300 13.200l1.900 3.600 1.900-3.600z" fill="#d4d4d4"/><rect x="8.600" y="10.500" width="3.400" height="3.500" fill="#c9c9c9"/><ellipse cx="10.400" cy="8.200" rx="3.900" ry="4.900" fill="#e6e6e6"/><path d="M6.300 7.800C5.700 3 8 1.300 10.500 1.300s4.900 1.800 4.100 6.500c-.4-1.700-.9-2.600-1.600-3.100-1.600.5-3.600.5-5.100 0-.7.500-1.200 1.400-1.600 3.100z" fill="#1f1f1f"/><ellipse cx="8.900" cy="8" rx=".7" ry=".4" fill="#555"/><ellipse cx="11.900" cy="8" rx=".7" ry=".4" fill="#555"/><path d="M.8 7.500l5.200 8" stroke="#333" stroke-width="1.600"/></svg>
<div style="position:absolute;left:589px;top:351px;width:124px;height:66.5px;box-sizing:border-box;background:#fff;border:1px solid #e0e0e0;border-radius:3px;box-shadow:0 1px 1.5px rgba(0,0,0,.09)"></div>
<div style="position:absolute;left:589px;top:351px;width:124px;height:19px;background:linear-gradient(to bottom,#fb4449 18px,transparent 18px),#fb4449a8;border-radius:3px 3px 0 0"></div>
<span style="position:absolute;left:592.00px;top:352.60px;height:16.8px;line-height:16.8px;font-size:8.4px;font-weight:400;color:#fff;white-space:pre;transform:scaleX(0.9543);transform-origin:0 50%;-webkit-text-stroke:0.3px #fff;">Cliente A</span>
<span style="position:absolute;left:592.10px;top:371.60px;height:16.8px;line-height:16.8px;font-size:8.4px;font-weight:400;color:#3a3a3a;white-space:pre;transform:scaleX(0.9524);transform-origin:0 50%;">Gestión</span>
<span style="position:absolute;left:681.90px;top:371.60px;height:16.8px;line-height:16.8px;font-size:8.4px;font-weight:400;color:#444;white-space:pre;transform:scaleX(0.9926);transform-origin:100% 50%;">Normal</span>
<div style="position:absolute;left:592.5px;top:385px;width:117px;height:1px;background:#e4e4e4;"></div>
<svg style="position:absolute;left:594.6px;top:388px;border-radius:50%" width="20" height="20" viewBox="0 0 20 20"><circle cx="10" cy="10" r="10" fill="#d3d4ea"/><path d="M5.500 20c.3-2 1.500-3 4.500-3s4.200 1 4.500 3z" fill="#d69a86"/><ellipse cx="10" cy="10.800" rx="4.900" ry="6.500" fill="#e2a694"/><path d="M4.600 11C3.800 5 6 2 10.500 1.800c3.500-.2 6 2.500 5.200 8.700-.4-1.800-.9-2.900-1.700-3.800-2.500.3-5-.5-6.500-2-1.500 1.300-2.400 3.300-2.900 6.300z" fill="#3e2e2a"/><ellipse cx="8.200" cy="10.600" rx=".8" ry=".5" fill="#5a3f3a"/><ellipse cx="12" cy="10.600" rx=".8" ry=".5" fill="#5a3f3a"/><path d="M8.700 14.800q1.300.6 2.600 0" stroke="#c0605e" stroke-width=".9" fill="none"/></svg>
<div style="position:absolute;left:725px;top:204px;width:124px;height:66.5px;box-sizing:border-box;background:#fff;border:1px solid #e0e0e0;border-radius:3px;box-shadow:0 1px 1.5px rgba(0,0,0,.09)"></div>
<div style="position:absolute;left:725px;top:204px;width:124px;height:19px;background:linear-gradient(to bottom,#fb4449 18px,transparent 18px),#fb4449a8;border-radius:3px 3px 0 0"></div>
<span style="position:absolute;left:728.70px;top:205.60px;height:16.8px;line-height:16.8px;font-size:8.4px;font-weight:400;color:#fff;white-space:pre;transform:scaleX(0.9288);transform-origin:0 50%;-webkit-text-stroke:0.3px #fff;">Cliente C</span>
<span style="position:absolute;left:728.80px;top:224.60px;height:16.8px;line-height:16.8px;font-size:8.4px;font-weight:400;color:#3a3a3a;white-space:pre;transform:scaleX(0.9269);transform-origin:0 50%;">Genérica</span>
<span style="position:absolute;left:818.60px;top:224.60px;height:16.8px;line-height:16.8px;font-size:8.4px;font-weight:400;color:#444;white-space:pre;transform:scaleX(0.9926);transform-origin:100% 50%;">Normal</span>
<div style="position:absolute;left:728.5px;top:238px;width:117px;height:1px;background:#e4e4e4;"></div>
<div style="position:absolute;left:22px;top:450px;width:124px;height:66.5px;box-sizing:border-box;background:#fff;border:1px solid #e0e0e0;border-radius:3px;box-shadow:0 1px 1.5px rgba(0,0,0,.09)"></div>
<div style="position:absolute;left:22px;top:450px;width:124px;height:19px;background:linear-gradient(to bottom,#b0bff1 18px,transparent 18px),#b0bff1a8;border-radius:3px 3px 0 0"></div>
<span style="position:absolute;left:25.70px;top:451.60px;height:16.8px;line-height:16.8px;font-size:8.4px;font-weight:400;color:#fff;white-space:pre;transform:scaleX(0.9918);transform-origin:0 50%;-webkit-text-stroke:0.3px #fff;">Lentitud platforma</span>
<span style="position:absolute;left:25.80px;top:470.60px;height:16.8px;line-height:16.8px;font-size:8.4px;font-weight:400;color:#3a3a3a;white-space:pre;transform:scaleX(0.8865);transform-origin:0 50%;">Técnica</span>
<span style="position:absolute;left:128.16px;top:470.60px;height:16.8px;line-height:16.8px;font-size:8.4px;font-weight:400;color:#444;white-space:pre;transform:scaleX(0.9905);transform-origin:100% 50%;">Alta</span>
<div style="position:absolute;left:25.5px;top:484px;width:117px;height:1px;background:#e4e4e4;"></div>
<div style="position:absolute;left:159px;top:450px;width:124px;height:66.5px;box-sizing:border-box;background:#fff;border:1px solid #e0e0e0;border-radius:3px;box-shadow:0 1px 1.5px rgba(0,0,0,.09)"></div>
<div style="position:absolute;left:159px;top:450px;width:124px;height:19px;background:linear-gradient(to bottom,#dd35d8 18px,transparent 18px),#dd35d8a8;border-radius:3px 3px 0 0"></div>
<span style="position:absolute;left:162.70px;top:451.60px;height:16.8px;line-height:16.8px;font-size:8.4px;font-weight:400;color:#fff;white-space:pre;transform:scaleX(0.9396);transform-origin:0 50%;-webkit-text-stroke:0.3px #fff;">Pruebas layout</span>
<span style="position:absolute;left:162.80px;top:470.60px;height:16.8px;line-height:16.8px;font-size:8.4px;font-weight:400;color:#3a3a3a;white-space:pre;transform:scaleX(0.9269);transform-origin:0 50%;">Genérica</span>
<span style="position:absolute;left:262.83px;top:470.60px;height:16.8px;line-height:16.8px;font-size:8.4px;font-weight:400;color:#444;white-space:pre;transform:scaleX(0.9126);transform-origin:100% 50%;">Baja</span>
<div style="position:absolute;left:162.5px;top:484px;width:117px;height:1px;background:#e4e4e4;"></div>
<svg style="position:absolute;left:164.6px;top:487px;border-radius:50%" width="20" height="20" viewBox="0 0 20 20"><g transform="translate(10 9.4) scale(1.12) translate(-10 -10)"><path d="M2 20c.3-3 2.500-4.700 5.500-5.300h5c3 .6 5.200 2.300 5.500 5.300z" fill="#14161b"/><path d="M7.600 14.600L10 20l2.400-5.400z" fill="#f4f4f8"/><path d="M9.400 16h1.200l.600 4H8.800z" fill="#eaa0c8"/><rect x="8.200" y="11" width="3.600" height="4.500" rx="1" fill="#c48a66"/><ellipse cx="10" cy="8.600" rx="4" ry="5.300" fill="#cf9672"/><path d="M5.900 8C5.400 3.200 7.400 1.300 10 1.300s4.600 1.900 4.100 6.700c-.3-2.100-.8-3-1.500-3.500-1.600.5-3.600.5-5.200 0-.7.500-1.200 1.400-1.500 3.500z" fill="#17120f"/><path d="M8.600 11.600q1.400.9 2.800 0" stroke="#f3e4dc" stroke-width=".7" fill="none"/></g></svg>
<svg style="position:absolute;left:188.29999999999998px;top:487px;border-radius:50%" width="20" height="20" viewBox="0 0 20 20"><g transform="translate(10 9.7) scale(1.22) translate(-10 -10)"><path d="M2.500 20c.3-3 2.500-4.500 7.500-4.500s7.200 1.500 7.500 4.500z" fill="#1f1f1f"/><ellipse cx="10" cy="9" rx="5.900" ry="7.600" fill="#454545"/><ellipse cx="10" cy="5.800" rx="3.800" ry="2.800" fill="#6e6e6e"/><ellipse cx="10" cy="9.800" rx="2" ry="1.400" fill="#7d7d7d"/><path d="M7.300 13.500q2.700 2 5.400 0z" fill="#d8d8d8"/></g></svg>
<svg style="position:absolute;left:212.0px;top:487px;border-radius:50%" width="20" height="20" viewBox="0 0 20 20"><circle cx="10" cy="10" r="10" fill="#ccd6e5"/><path d="M4 20c.5-2.500 2.500-3.800 6-3.800s5.500 1.300 6 3.800z" fill="#e6b097"/><ellipse cx="10" cy="8.300" rx="6.900" ry="6.800" fill="#a8593a"/><ellipse cx="10" cy="11" rx="5.200" ry="6.300" fill="#e8aa8c"/><path d="M4.800 9.500C5 5.500 7 4 10 4.200s5 1.300 5.200 5.300c-1-2-2.800-2.900-5.200-2.900s-4.200.9-5.200 2.900z" fill="#b0603d"/><path d="M7.800 14q2.200 1.400 4.400 0" stroke="#c9756a" stroke-width=".8" fill="none"/></svg>
<svg style="position:absolute;left:235.7px;top:487px;border-radius:50%" width="20" height="20" viewBox="0 0 20 20"><circle cx="10" cy="10" r="10" fill="#9fb0bd"/><path d="M2.500 17c1.500-2 4-3 7.500-3s6 1 7.500 3a10 10 0 0 1-15 0z" fill="#6d7c88"/><ellipse cx="10" cy="9.800" rx="5" ry="6.300" fill="#d9a48a"/><path d="M4.900 8.500C4.500 4 7 2.200 10 2.200s5.500 1.800 5.100 6.300c-.5-2.200-1.200-3.100-2-3.500-1.800.5-4.400.5-6.200 0-.8.400-1.500 1.300-2 3.500z" fill="#3c332f"/><path d="M7.800 13q2.200 1.500 4.400 0z" fill="#f3e6e0"/></svg>
<div style="position:absolute;left:725px;top:450px;width:124px;height:66.5px;box-sizing:border-box;background:#fff;border:1px solid #e0e0e0;border-radius:3px;box-shadow:0 1px 1.5px rgba(0,0,0,.09)"></div>
<div style="position:absolute;left:725px;top:450px;width:124px;height:19px;background:linear-gradient(to bottom,#555555 18px,transparent 18px),#555555a8;border-radius:3px 3px 0 0"></div>
<span style="position:absolute;left:728.70px;top:451.60px;height:16.8px;line-height:16.8px;font-size:8.4px;font-weight:400;color:#fff;white-space:pre;transform:scaleX(0.9355);transform-origin:0 50%;-webkit-text-stroke:0.3px #fff;">Agujero seguidad</span>
<span style="position:absolute;left:728.80px;top:470.60px;height:16.8px;line-height:16.8px;font-size:8.4px;font-weight:400;color:#3a3a3a;white-space:pre;transform:scaleX(0.9491);transform-origin:0 50%;">Con clientes/usuarios</span>
<span style="position:absolute;left:815.80px;top:470.60px;height:16.8px;line-height:16.8px;font-size:8.4px;font-weight:400;color:#444;white-space:pre;transform:scaleX(0.9733);transform-origin:100% 50%;">Urgente</span>
<div style="position:absolute;left:728.5px;top:484px;width:117px;height:1px;background:#e4e4e4;"></div>
<svg style="position:absolute;left:730.6px;top:487px" width="20" height="20" viewBox="0 0 20 20"><circle cx="10" cy="10" r="9.4" fill="#ededed" stroke="#bcbcbc" stroke-width="1"/></svg>
<span style="position:absolute;left:735.18px;top:488.80px;height:17.6px;line-height:17.6px;font-size:8.8px;font-weight:700;color:#33222c;white-space:pre;transform:scaleX(0.8889);transform-origin:50% 50%;">FA</span>
</div></div></div>
</body></html>
